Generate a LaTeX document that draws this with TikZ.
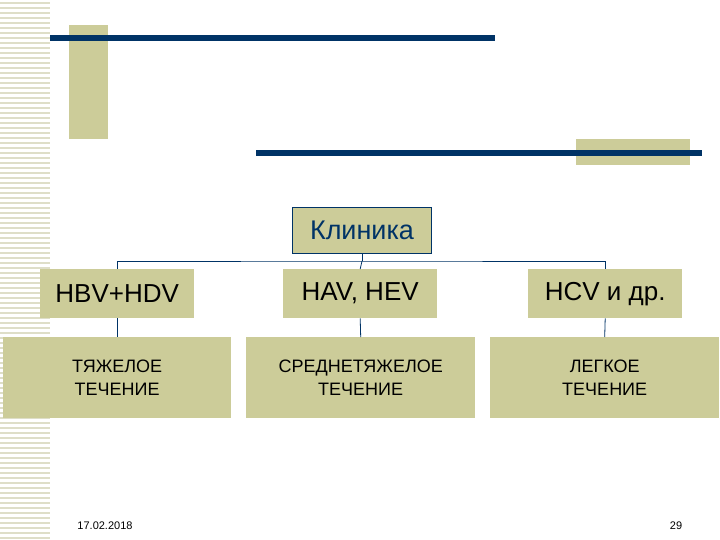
\documentclass[tikz,border=0pt]{standalone}
\usepackage{fontspec}
\setmainfont{Liberation Sans}
\begin{document}
\begin{tikzpicture}[x=1pt,y=-1pt,
  khaki/.style={fill=boxk,draw=none},
  box/.style={khaki,anchor=north west,inner sep=0pt,align=center},
  conn/.style={draw=navy,line width=0.8pt}]
\definecolor{boxk}{RGB}{204,204,153}
\definecolor{navy}{RGB}{0,51,102}
\definecolor{stripe}{RGB}{222,222,200}
\useasboundingbox (0,0) rectangle (720,540);
\fill[white] (0,0) rectangle (720,540);
\foreach \i in {0,...,107} \fill[stripe] (0,{\i*5+2}) rectangle (50,{\i*5+4});
\fill[boxk] (69,25) rectangle (108,139);
\fill[navy] (50,35) rectangle (495,41);
\fill[boxk] (576,139) rectangle (690,165);
\fill[navy] (256,150) rectangle (702,156);
\node[box,draw=navy,line width=1pt,minimum width=139pt,minimum height=46pt,text=navy,font=\fontsize{27}{30}\selectfont] (k) at (292,207) {Клиника};
\node[box,minimum width=154pt,minimum height=49pt,font=\fontsize{26}{30}\selectfont] (a) at (40,269) {HBV+HDV};
\node[box,minimum width=154pt,minimum height=49pt,font=\fontsize{26}{30}\selectfont] (b) at (283,269) {HAV, HEV};
\node[box,minimum width=154pt,minimum height=49pt,font=\fontsize{26}{30}\selectfont] (c) at (528,269) {HCV и др.};
\node[box,minimum width=228pt,minimum height=81pt,font=\fontsize{18}{23}\selectfont] (d) at (3,337) {ТЯЖЕЛОЕ\\ТЕЧЕНИЕ};
\node[box,minimum width=229pt,minimum height=81pt,font=\fontsize{18}{23}\selectfont] (e) at (246,337) {СРЕДНЕТЯЖЕЛОЕ\\ТЕЧЕНИЕ};
\node[box,minimum width=229pt,minimum height=81pt,font=\fontsize{18}{23}\selectfont] (f) at (490,337) {ЛЕГКОЕ\\ТЕЧЕНИЕ};
\coordinate (h) at (k.south |- 0,261);
\draw[conn] (k.south) -- (h);
\draw[conn] (a.north) |- (h) -| (c.north);
\draw[conn] (h) -- (b.north);
\draw[conn] (a.south) -- (d.north);
\draw[conn] (b.south) -- (e.north);
\draw[conn] (c.south) -- (f.north);
\node[font=\fontsize{11}{13}\selectfont\rmfamily] (dt) at (105,526) {17.02.2018};
\node[font=\fontsize{11}{13}\selectfont\rmfamily] (pg) at (676,526) {29};
\end{tikzpicture}
\end{document}
